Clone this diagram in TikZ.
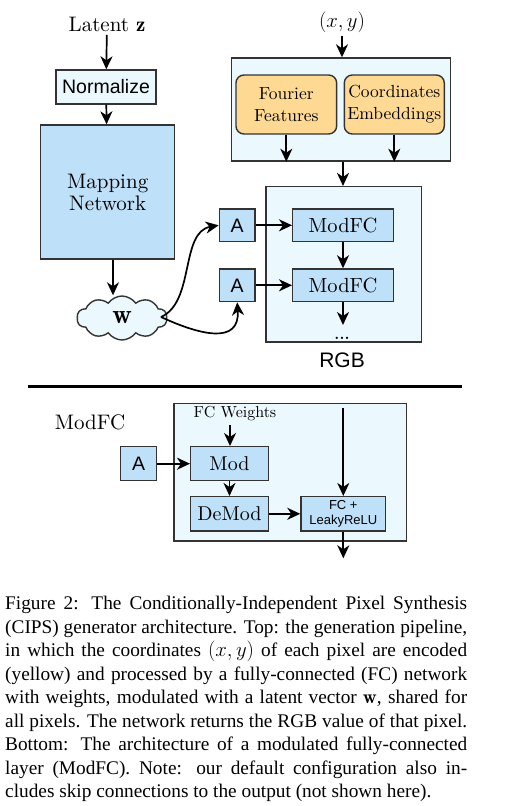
\documentclass[tikz,border=0pt]{standalone}
\usepackage{fontspec}
\setsansfont{Liberation Sans}
\newfontfamily\capfont{Liberation Serif}
\newfontfamily\dfont[Extension=.otf]{lmroman10-regular}
\usetikzlibrary{arrows.meta,shapes.symbols}
\definecolor{boxline}{HTML}{333333}
\definecolor{lightfill}{HTML}{EBF9FE}
\definecolor{bluefill}{HTML}{BEE0F9}
\definecolor{orangefill}{HTML}{FED993}
\newcommand\fsz[2]{\fontsize{#1}{#2}\selectfont}
\tikzset{
  basebox/.style={draw=boxline, line width=1.4pt, inner sep=0pt, align=center},
  lightbox/.style={basebox, fill=lightfill},
  bluebox/.style={basebox, fill=bluefill},
  orangebox/.style={basebox, fill=orangefill, rounded corners=8pt},
  arr/.style={line width=1.7pt, -{Stealth[length=13pt,width=12pt,inset=4pt]}},
  sanslbl/.style={font=\sffamily\fsz{19.5}{21}},
}
\begin{document}
\begin{tikzpicture}[x=1pt,y=-1pt]
\useasboundingbox (0,0) rectangle (507,806);
% ---------- top part ----------
\node[font=\dfont\fsz{21}{23}] (latent) at (107,24) {Latent $\mathbf{z}$};
\node[lightbox, sanslbl, minimum width=100pt, minimum height=34pt] (norm) at (106,87) {Normalize};
\node[bluebox, font=\dfont\fsz{21}{22}, minimum width=134pt, minimum height=134pt] (map) at (107.7,192) {Mapping\\Network};
\node[cloud, cloud puffs=10, cloud puff arc=110, aspect=2.1, draw=boxline, line width=1.4pt,
      fill=lightfill, minimum width=90pt, minimum height=44pt, inner sep=0pt, font=\fsz{27}{27}] (w) at (122,318) {$\mathbf{w}$};
\coordinate (wout) at (161,317);

\node[font=\fsz{21.5}{22}] (xy) at (342,22) {$(x,y)$};
\node[lightbox, minimum width=219pt, minimum height=103pt] (top) at (341.2,109.5) {};
\node[orangebox, font=\dfont\fsz{17.5}{22}, minimum width=100.7pt, minimum height=59pt] (ff) at (286.3,104.5) {Fourier\\Features};
\node[orangebox, font=\dfont\fsz{17.5}{22}, minimum width=100pt, minimum height=59pt] (ce) at (394.3,104.5) {Coordinates\\Embeddings};

\node[lightbox, minimum width=155.7pt, minimum height=155.3pt] (low) at (343.8,264.3) {};
\node[bluebox, font=\dfont\fsz{20.5}{22}, minimum width=100.6pt, minimum height=32.7pt] (m1) at (343,225.3) {ModFC};
\node[bluebox, font=\dfont\fsz{20.5}{22}, minimum width=100.6pt, minimum height=32.7pt] (m2) at (343,285.3) {ModFC};
\node[bluebox, sanslbl, minimum width=35.7pt, minimum height=32.7pt] (a1) at (237.2,225.3) {A};
\node[bluebox, sanslbl, minimum width=35.7pt, minimum height=32.7pt] (a2) at (237.2,285.3) {A};
\node[font=\bfseries\fsz{16}{18}, anchor=base] (dots) at (342,339) {...};
\node[font=\sffamily\fsz{21}{22}] (rgb) at (342,360) {RGB};
\coordinate (m2out) at (343,325);

\draw[arr] (latent) -- (norm);
\draw[arr] (norm) -- (map);
\draw[arr] (map.south -| 113,0) -- (w.north -| 113,0);
\draw[arr] (xy) -- (top.north -| xy);
\draw[arr] (ff.south) -- (ff.south |- top.south);
\draw[arr] (ce.south) -- (ce.south |- top.south);
\draw[arr] (top.south -| m1) -- (low.north -| m1);
\draw[arr] (a1) -- (m1);
\draw[arr] (a2) -- (m2);
\draw[arr] (m1) -- (m2);
\draw[arr] (m2) -- (m2out);
\draw[arr] (wout) .. controls (195,302) and (180,232) .. (a1.west);
\draw[arr] (wout) .. controls (200,335) and (240,345) .. (a2.south);

% ---------- rule ----------
\coordinate (r1) at (28,386.7);
\coordinate (r2) at (462,386.7);
\draw[line width=3pt] (r1) -- (r2);

% ---------- bottom part ----------
\node[font=\dfont\fsz{21}{22}] (modlbl) at (90,422.7) {ModFC};
\node[lightbox, minimum width=232.7pt, minimum height=137.7pt] (box2) at (290.3,472.2) {};
\node[font=\dfont\fsz{16}{18}] (fcw) at (235,414) {FC Weights};
\node[bluebox, font=\dfont\fsz{20}{22}, minimum width=77.6pt, minimum height=34pt] (mod) at (229.5,463.7) {Mod};
\node[bluebox, sanslbl, minimum width=36pt, minimum height=34pt] (a3) at (138.7,463.7) {A};
\node[bluebox, font=\dfont\fsz{20}{22}, minimum width=77.6pt, minimum height=34.3pt] (demod) at (229.5,513.8) {DeMod};
\node[bluebox, font=\sffamily\fsz{13}{15}, minimum width=84.7pt, minimum height=34.3pt] (fc) at (343.3,513.8) {FC +\\LeakyReLU};
\coordinate (vin) at (343.3,408.3);
\coordinate (vout) at (343.3,558.3);

\draw[arr] (fcw.south -| 230,0) -- (mod.north -| 230,0);
\draw[arr] (a3) -- (mod);
\draw[arr] (mod) -- (demod);
\draw[arr] (demod) -- (fc);
\draw[arr] (vin) -- (fc.north);
\draw[arr] (fc.south) -- (vout);

% ---------- caption ----------
\node[anchor=north west, inner sep=0pt, font=\capfont\fsz{19.3}{23.5}] (cap) at (5,596) {\vbox{%
\hbox to 462pt{Figure 2: The Conditionally-Independent Pixel Synthesis}
\hbox to 462pt{(CIPS) generator architecture. Top: the generation pipeline,}
\hbox to 462pt{in which the coordinates $(x,y)$ of each pixel are encoded}
\hbox to 462pt{(yellow) and processed by a fully-connected (FC) network}
\hbox to 462pt{with weights, modulated with a latent vector $\mathbf{w}$, shared for}
\hbox to 462pt{all pixels. The network returns the RGB value of that pixel.}
\hbox to 462pt{Bottom: The architecture of a modulated fully-connected}
\hbox to 462pt{layer (ModFC). Note: our default configuration also in-}
\hbox{cludes skip connections to the output (not shown here).}}};
\end{tikzpicture}
\end{document}
